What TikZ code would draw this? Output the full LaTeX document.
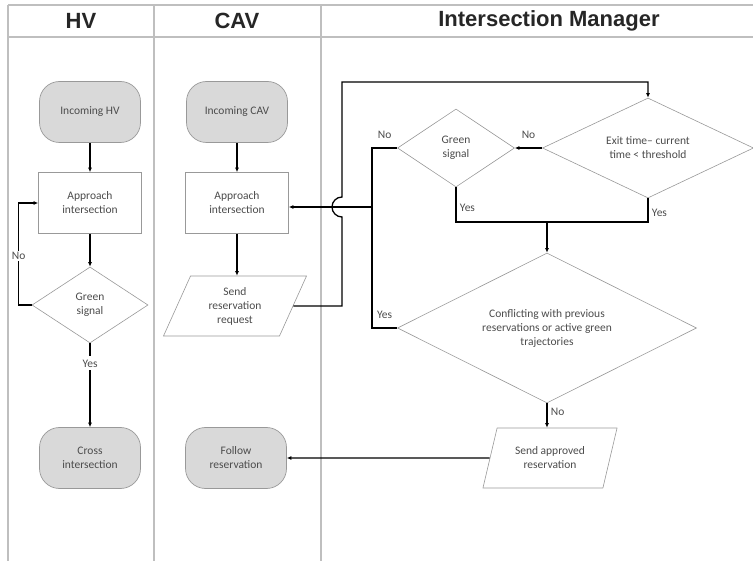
\documentclass[tikz,border=0pt]{standalone}
\usepackage{fontspec}
\setmainfont{Carlito}
\newfontfamily\headfont{Liberation Sans}
\usetikzlibrary{shapes.geometric,arrows.meta}
\colorlet{boxgray}{black!15}
\colorlet{edgegray}{black!40}
\colorlet{txtgray}{black!70}
\tikzset{lane/.style={draw=black!25,line width=1.3pt},
         head/.style={font=\headfont\bfseries\fontsize{22}{26}\selectfont,text=black!85},
         term/.style={draw=edgegray,fill=boxgray,line width=0.7pt,rounded corners=20pt,
                      minimum width=101pt,minimum height=61pt,align=center},
         proc/.style={draw=edgegray,fill=white,line width=0.7pt,
                      minimum width=103pt,minimum height=61pt,align=center},
         decis/.style={diamond,draw=edgegray,fill=white,line width=0.6pt,inner sep=0pt,align=center},
         datain/.style={trapezium,trapezium left angle=67,trapezium right angle=113,
                        trapezium stretches=true,draw=edgegray,fill=white,line width=0.6pt,
                        minimum height=60pt,inner sep=0pt,align=center},
         arr/.style={-{Latex[length=4.5pt,width=4pt]}}
}
\begin{document}
\begin{tikzpicture}[x=1pt,y=1pt,line width=1.3pt,
   every node/.style={font=\fontsize{11.5}{14}\selectfont,text=txtgray}]
  \useasboundingbox (0,0) rectangle (753,-561);
  % swim lanes
  \foreach\x in {8,154,321}
     \draw[lane](\x,-5)--(\x,-561);
  \draw[lane](8,-5)--(753,-5) (8,-37)--(753,-37);
  \node[head] (hvhead) at (81,-21) {HV};
  \node[head] (cavhead) at (237,-21) {CAV};
  \node[head] (imhead) at (549,-21) {Intersection Manager};
  % HV
  \node[term] (inhv) at (90,-112) {Incoming HV};
  \node[proc] (apphv) at (90,-203) {Approach\\intersection};
  \node[decis,shape aspect=1.5,minimum width=116pt,minimum height=76pt] (hvgreen) at (90,-305) {Green\\signal};
  \node[term] (crosshv) at (90,-458) {Cross\\intersection};
  % CAV
  \node[term] (incav) at (237,-112) {Incoming CAV};
  \node[proc] (appcav) at (237,-203) {Approach\\intersection};
  \node[datain,minimum width=144pt] (sendreq) at (235,-306) {Send\\reservation\\request};
  \node[term] (follow) at (236,-458) {Follow\\reservation};
  % Intersection Manager
  \node[decis,shape aspect=2,minimum width=211pt,minimum height=100pt] (exit) at (648,-148) {Exit time-- current\\time < threshold};
  \node[decis,shape aspect=1.5,minimum width=117pt,minimum height=78pt] (imgreen) at (456,-148) {Green\\signal};
  \node[decis,shape aspect=2,minimum width=299pt,minimum height=150pt] (conf) at (547,-328) {Conflicting with previous\\reservations or active green\\trajectories};
  \node[datain,minimum width=135pt] (sendok) at (550,-458) {Send approved\\reservation};
  \coordinate (jn) at (372,-207);
  \coordinate (mrg) at (547,-222);
  % connectors
  \draw[arr](inhv)--(apphv);
  \draw[arr](apphv)--(hvgreen);
  \draw[arr](hvgreen.west)--++(-13,0)|-node[pos=0.24,fill=white,inner sep=1pt]{No}(apphv.west);
  \draw[arr](hvgreen)--node[pos=0.24,fill=white]{Yes}(crosshv);
  \draw[arr](incav)--(appcav);
  \draw[arr](appcav.south)--(appcav.south|-sendreq.north);
  \draw[arr](sendreq.east)--(342,-306)--(342,-217)arc[start angle=270,end angle=90,radius=10]--(342,-82)-|(exit.north);
  \draw[arr](exit.west)--node[above=5pt]{No}(imgreen.east);
  \draw(imgreen.west)--node[above=5pt]{No}(imgreen.west-|jn)--(jn);
  \draw(conf.west)--node[above=5pt]{Yes}(conf.west-|jn)--(jn);
  \draw[arr](jn)--(jn-|appcav.east);
  \draw(imgreen.south)|-node[pos=0.3,right]{Yes}(mrg);
  \draw(exit.south)|-node[pos=0.3,right]{Yes}(mrg);
  \draw[arr](mrg)--(conf.north);
  \draw[arr](conf.south)--node[pos=0.35,right]{No}(conf.south|-sendok.north);
  \draw[arr](sendok)--(follow);
\end{tikzpicture}
\end{document}
